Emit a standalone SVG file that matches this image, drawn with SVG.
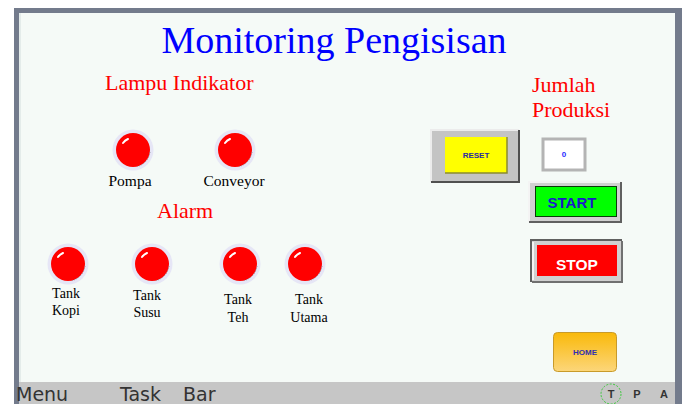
<svg xmlns="http://www.w3.org/2000/svg" width="686" height="404" viewBox="0 0 686 404">
  <defs>
    <linearGradient id="homeGrad" x1="0" y1="0" x2="0" y2="1">
      <stop offset="0" stop-color="#f9b90a"/>
      <stop offset="1" stop-color="#fcd67a"/>
    </linearGradient>
    <!-- red indicator lamp -->
    <g id="lamp">
      <circle r="20.5" fill="#e6e6f6"/>
      <circle r="17" fill="#ff0000"/>
      <path d="M -10 -7 A 12 12 0 0 1 -5 -11" fill="none" stroke="#ffffff" stroke-width="2" stroke-linecap="round"/>
      <path d="M 17 2 A 17 17 0 0 1 4 16.5" fill="none" stroke="#8a8a9a" stroke-width="1" stroke-dasharray="1 1.5"/>
    </g>
  </defs>
  <style>
    .title { font-family: "Liberation Serif", "Times New Roman", serif; fill: #0000ff; font-size: 38px; }
    .head { font-family: "Liberation Serif", "Times New Roman", serif; fill: #ff0000; font-size: 22px; }
    .lbl { font-family: "Liberation Serif", "Times New Roman", serif; fill: #000000; font-size: 14px; text-anchor: middle; }
    .lbl2 { font-family: "Liberation Serif", "Times New Roman", serif; fill: #000000; font-size: 15.5px; text-anchor: middle; }
    .btn { font-family: "Liberation Sans", Arial, sans-serif; font-weight: bold; text-anchor: middle; }
    .task { font-family: "DejaVu Sans", sans-serif; fill: #333333; font-size: 19px; }
    .tray { font-family: "Liberation Sans", Arial, sans-serif; font-weight: bold; fill: #333333; font-size: 11px; text-anchor: middle; }
  </style>

  <!-- screen frame -->
  <rect x="0" y="0" width="686" height="404" fill="#ffffff"/>
  <rect x="14" y="8" width="668" height="396" fill="#737b8c"/>
  <rect x="19" y="13" width="656" height="391" fill="#f5faf7"/>
  <rect x="19" y="13" width="2" height="369" fill="#e4ecea"/>

  <!-- title and headings -->
  <text class="title" x="334" y="53" text-anchor="middle">Monitoring Pengisisan</text>
  <text class="head" x="105" y="90">Lampu Indikator</text>
  <text class="head" x="157" y="218">Alarm</text>
  <text class="head" x="532" y="92">Jumlah</text>
  <text class="head" x="532" y="117">Produksi</text>

  <!-- indicator lamps -->
  <g id="lamp-pompa">
    <use href="#lamp" x="133" y="150"/>
    <text class="lbl2" x="130" y="186">Pompa</text>
  </g>
  <g id="lamp-conveyor">
    <use href="#lamp" x="235" y="150"/>
    <text class="lbl2" x="234" y="186">Conveyor</text>
  </g>

  <!-- alarm lamps -->
  <g id="alarm-kopi">
    <use href="#lamp" x="68" y="264"/>
    <text class="lbl" x="66" y="298">Tank</text>
    <text class="lbl" x="66" y="315">Kopi</text>
  </g>
  <g id="alarm-susu">
    <use href="#lamp" x="152" y="264"/>
    <text class="lbl" x="147" y="300">Tank</text>
    <text class="lbl" x="147" y="317">Susu</text>
  </g>
  <g id="alarm-teh">
    <use href="#lamp" x="240" y="264"/>
    <text class="lbl" x="238" y="304">Tank</text>
    <text class="lbl" x="238" y="322">Teh</text>
  </g>
  <g id="alarm-utama">
    <use href="#lamp" x="305" y="264"/>
    <text class="lbl" x="309" y="304">Tank</text>
    <text class="lbl" x="309" y="322">Utama</text>
  </g>

  <!-- reset button -->
  <g id="btn-reset">
    <rect x="431" y="130" width="88" height="52" fill="#c4c4c4"/>
    <path d="M431 182 V130 H519" fill="none" stroke="#ececec" stroke-width="2"/>
    <path d="M431 182 H519 V130" fill="none" stroke="#505050" stroke-width="2"/>
    <rect x="445" y="137" width="62" height="36" fill="#ffff00"/>
    <path d="M445 173 H507 V137" fill="none" stroke="#8a8a30" stroke-width="1.5"/>
    <text class="btn" x="476" y="158" font-size="8" fill="#2a2aa0">RESET</text>
  </g>

  <!-- production counter -->
  <g id="counter">
    <rect x="543" y="139" width="42" height="31" fill="#ffffff" stroke="#b4b4b4" stroke-width="3"/>
    <text class="btn" x="564" y="157" font-size="8" fill="#2a2aff">0</text>
  </g>

  <!-- start button -->
  <g id="btn-start">
    <rect x="529" y="182" width="92" height="40" fill="#d0d0d0"/>
    <path d="M529 222 V182 H621" fill="none" stroke="#f4f4f4" stroke-width="2"/>
    <path d="M529 222 H621 V182" fill="none" stroke="#606060" stroke-width="2"/>
    <rect x="535.5" y="186.5" width="81" height="30" fill="#00ff00" stroke="#0a3a0a" stroke-width="1"/>
    <text class="btn" x="572" y="208" font-size="15" fill="#1a1ac8">START</text>
  </g>

  <!-- stop button -->
  <g id="btn-stop">
    <rect x="531" y="240" width="91" height="42" fill="#d0d0d0"/>
    <path d="M531 282 V240 H622" fill="none" stroke="#606060" stroke-width="2"/>
    <path d="M532 282 H622 V241" fill="none" stroke="#707070" stroke-width="2"/>
    <path d="M533 280 V242" fill="none" stroke="#f4f4f4" stroke-width="2"/>
    <rect x="537" y="245" width="80" height="31" fill="#ff0000"/>
    <text class="btn" x="577" y="270" font-size="15.5" fill="#ffffff">STOP</text>
  </g>

  <!-- home button -->
  <g id="btn-home">
    <rect x="553.5" y="332.5" width="63" height="39" rx="4" fill="url(#homeGrad)" stroke="#c89a2a" stroke-width="1"/>
    <text class="btn" x="585" y="355" font-size="8" fill="#3030b0">HOME</text>
  </g>

  <!-- task bar -->
  <g id="taskbar">
    <rect x="19" y="382" width="656" height="22" fill="#c6c6c6"/>
    <text class="task" x="16" y="401">Menu</text>
    <text class="task" x="120" y="401">Task</text>
    <text class="task" x="183" y="401">Bar</text>
    <circle cx="611" cy="394" r="10" fill="none" stroke="#3cc83c" stroke-width="1" stroke-dasharray="2 1.5"/>
    <text class="tray" x="611" y="398">T</text>
    <text class="tray" x="637" y="398">P</text>
    <text class="tray" x="664" y="398">A</text>
  </g>
</svg>
